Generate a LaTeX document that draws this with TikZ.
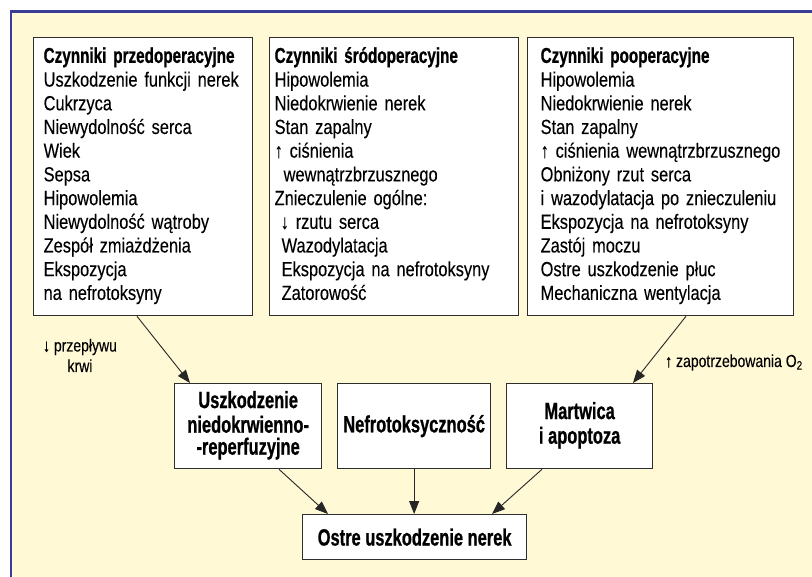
\documentclass[tikz,border=0pt]{standalone}
\usepackage{fontspec}
\setmainfont{Liberation Sans}
\newfontfamily\regc{Liberation Sans}[FakeStretch=0.8,FakeBold=0.15]
\newfontfamily\boldc{Liberation Sans}[FakeStretch=0.71,FakeBold=0.8]
\newfontfamily\boldm{Liberation Sans}[FakeStretch=0.7,FakeBold=0.8]
\usetikzlibrary{arrows.meta,calc}
\definecolor{bgyellow}{HTML}{FFF9D6}
\definecolor{frameblue}{HTML}{3B3B98}
\definecolor{boxline}{HTML}{2E2E2E}
\newcommand{\hd}[1]{{\boldc\bfseries\fontsize{21.5}{23.7}\selectfont #1}}
\begin{document}
\begin{tikzpicture}[x=1pt,y=-1pt,
  factor/.style={draw=boxline, fill=white, line width=1.3pt, anchor=north west,
    minimum height=278pt, align=left, inner ysep=0pt,
    execute at begin node={\hyphenpenalty=10000\exhyphenpenalty=10000\relax},
    font=\regc\fontsize{20.5}{23.7}\selectfont},
  mech/.style={draw=boxline, fill=white, line width=1.3pt, anchor=north west,
    align=center, inner sep=0pt,
    font=\boldm\bfseries\fontsize{23.5}{22}\selectfont},
  arr/.style={-{Triangle[length=13pt,width=10pt]}, line width=0.9pt, draw=black!85},
  lab/.style={font=\regc\fontsize{17.5}{20.5}\selectfont, inner sep=0pt}]
\useasboundingbox (0,0) rectangle (812,577);
\fill[white] (0,0) rectangle (812,577);
\fill[bgyellow] (10,11) rectangle (812,577);
\draw[frameblue, line width=2.6pt] (10.8,577) -- (10.8,11.8) -- (812,11.8);

\node[factor, text width=199pt, inner xsep=10pt] (b1) at (33,37) {\strut\hd{Czynniki~przedoperacyjne}\\
Uszkodzenie~funkcji~nerek\\
Cukrzyca\\
Niewydolność~serca\\
Wiek\\
Sepsa\\
Hipowolemia\\
Niewydolność~wątroby\\
Zespół~zmiażdżenia\\
Ekspozycja\\
na~nefrotoksyny\strut};

\node[factor, text width=239pt, inner xsep=5pt] (b2) at (269,37) {\strut\hd{Czynniki~śródoperacyjne}\\
Hipowolemia\\
Niedokrwienie~nerek\\
Stan~zapalny\\
↑~ciśnienia\\
\hspace*{9pt}wewnątrzbrzusznego\\
Znieczulenie~ogólne:\\
\hspace*{6pt}↓~rzutu~serca\\
\hspace*{7pt}Wazodylatacja\\
\hspace*{7pt}Ekspozycja~na~nefrotoksyny\\
\hspace*{7pt}Zatorowość\strut};

\node[factor, text width=240pt, inner xsep=13pt] (b3) at (527,37) {\strut\hd{Czynniki~pooperacyjne}\\
Hipowolemia\\
Niedokrwienie~nerek\\
Stan~zapalny\\
↑~ciśnienia~wewnątrzbrzusznego\\
Obniżony~rzut~serca\\
i~wazodylatacja~po~znieczuleniu\\
Ekspozycja~na~nefrotoksyny\\
Zastój~moczu\\
Ostre~uszkodzenie~płuc\\
Mechaniczna~wentylacja\strut};

\node[mech, minimum width=147pt, minimum height=85pt] (A) at (174,383) {\strut Uszkodzenie\\niedokrwienno-\\-reperfuzyjne\strut};
\node[mech, minimum width=153pt, minimum height=85pt] (N) at (337,383) {Nefrotoksyczność};
\node[mech, minimum width=146pt, minimum height=85pt] (M) at (506,383) {\strut Martwica\\i apoptoza\strut};
\node[mech, minimum width=224pt, minimum height=45pt] (O) at (302,514) {Ostre uszkodzenie nerek};

\draw[arr] ([xshift=104pt]b1.south west) -- ([xshift=16pt]A.north west);
\draw[arr] ([xshift=159pt]b3.south west) -- ([xshift=127pt]M.north west);
\draw[arr] ([xshift=105pt]A.south west) -- ([xshift=26pt]O.north west);
\draw[arr] (N.south) -- (N.south |- O.north);
\draw[arr] ([xshift=36pt]M.south west) -- ([xshift=190pt]O.north west);

\node[lab, anchor=base, align=center] (lq) at (80,372) {↓ przepływu\\krwi};
\node[lab, anchor=base west] (lz) at (665,367) {↑ zapotrzebowania O\textsubscript{2}};
\end{tikzpicture}
\end{document}
